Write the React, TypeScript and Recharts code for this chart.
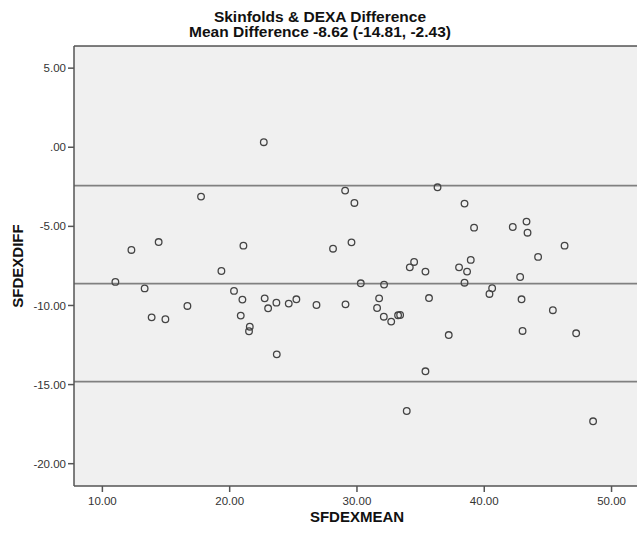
import React from 'react'
import {
  ScatterChart, Scatter, XAxis, YAxis, CartesianGrid, ReferenceLine,
} from 'recharts'

/* ── datos (SFDEXMEAN vs SFDEXDIFF) ── */
const meanValues = [
  11.02, 12.28, 13.32, 13.87, 14.42, 14.95, 16.68, 17.75, 19.35, 20.34,
  20.87, 21.0, 21.08, 21.58, 21.52, 22.68, 22.75, 23.02, 23.67, 23.7,
  24.64, 25.24, 26.82, 28.12, 29.07, 29.1, 29.57, 29.8, 30.3, 31.58,
  31.74, 32.11, 32.13, 32.69, 33.23, 33.39, 33.91, 34.15, 34.49, 35.38,
  35.38, 35.66, 36.33, 37.21, 38.02, 38.45, 38.45, 38.65, 38.94, 39.2,
  40.41, 40.62, 42.24, 42.82, 42.93, 43.01, 43.32, 43.4, 44.23, 45.39,
  46.31, 47.22, 48.55,
]
const diffValues = [
  -8.51, -6.49, -8.92, -10.75, -5.99, -10.87, -10.03, -3.12, -7.82, -9.08,
  -10.64, -9.63, -6.22, -11.34, -11.63, 0.32, -9.55, -10.18, -9.82, -13.09,
  -9.88, -9.61, -9.97, -6.41, -2.74, -9.93, -6.01, -3.52, -8.6, -10.16,
  -9.55, -10.71, -8.68, -11.02, -10.62, -10.6, -16.67, -7.59, -7.25, -7.86,
  -14.16, -9.53, -2.53, -11.87, -7.59, -3.56, -8.56, -7.86, -7.12, -5.08,
  -9.27, -8.91, -5.04, -8.2, -9.61, -11.61, -4.7, -5.4, -6.93, -10.3,
  -6.22, -11.76, -17.32,
]
const limits = [-2.43, -8.62, -14.81]
const xTicks = [10, 20, 30, 40, 50]
const yTicks = [5, 0, -5, -10, -15, -20]

const X_DOMAIN: [number, number] = [7.77, 52]
const Y_DOMAIN: [number, number] = [-21.41, 6.4]

const points = meanValues.map((x, i) => ({ x, y: diffValues[i] }))

const FONT = '"Liberation Sans", Arial, sans-serif'
const tickStyle = { fill: '#333', fontSize: 11.5, fontFamily: FONT }

// SPSS escribe 0 como ".00"
const fmt = (v: number) => v.toFixed(2).replace(/^0\./, '.')

const Ring = (props: any) => (
  <circle cx={props.cx} cy={props.cy} r={3.3} fill="none" stroke="#444" strokeWidth={1.3} />
)

export default function App() {
  return (
    <div style={{ position: 'absolute', left: 0, top: 0, width: 637, height: 535, background: '#fff' }}>
      <ScatterChart width={637} height={535} margin={{ top: 46, right: 0, bottom: 0, left: 0 }}>
        <CartesianGrid horizontal={false} vertical={false} fill="#f0f0f0" />
        <XAxis
          type="number"
          dataKey="x"
          domain={X_DOMAIN}
          ticks={xTicks}
          allowDataOverflow
          height={49}
          tick={tickStyle}
          tickFormatter={fmt}
          tickSize={6}
          tickMargin={5}
          axisLine={{ stroke: '#555', strokeWidth: 1.5 }}
          tickLine={{ stroke: '#555', strokeWidth: 1.5 }}
        />
        <YAxis
          type="number"
          dataKey="y"
          domain={Y_DOMAIN}
          ticks={yTicks}
          allowDataOverflow
          width={74}
          tick={tickStyle}
          tickFormatter={fmt}
          tickSize={6}
          tickMargin={2}
          axisLine={{ stroke: '#555', strokeWidth: 1.5 }}
          tickLine={{ stroke: '#555', strokeWidth: 1.5 }}
        />
        <ReferenceLine y={Y_DOMAIN[1]} stroke="#000" strokeWidth={1.2} />
        {limits.map((v) => (
          <ReferenceLine key={v} y={v} stroke="#808080" strokeWidth={1.8} />
        ))}
        <Scatter data={points} shape={Ring} isAnimationActive={false} />
      </ScatterChart>
      <svg
        width={637}
        height={535}
        style={{ position: 'absolute', left: 0, top: 0, pointerEvents: 'none' }}
        fontFamily={FONT}
        fontWeight="bold"
        fill="#111"
      >
        <text x={320} y={21.5} textAnchor="middle" fontSize={15.5}>Skinfolds &amp; DEXA Difference</text>
        <text x={320} y={37} textAnchor="middle" fontSize={15.5}>Mean Difference -8.62 (-14.81, -2.43)</text>
        <text x={357} y={522} textAnchor="middle" fontSize={15}>SFDEXMEAN</text>
        <text x={23} y={266} textAnchor="middle" fontSize={15} transform="rotate(-90 23 266)">SFDEXDIFF</text>
      </svg>
    </div>
  )
}
